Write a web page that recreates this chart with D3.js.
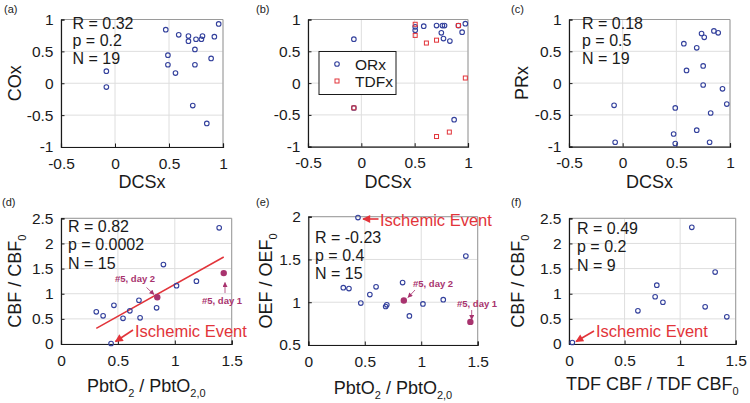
<!DOCTYPE html>
<html><head><meta charset="utf-8">
<script src="https://cdn.jsdelivr.net/npm/d3@7"></script>
<style>
body{margin:0;background:#fff}
svg{display:block}
text{font-family:"Liberation Sans",Arial,Helvetica,sans-serif}
</style>
</head><body>
<svg id="chart" width="750" height="403"></svg>
<script>
// ---------------- data ----------------
// (a) COx vs DCSx
const aDCSx = [-0.08, -0.08, 0.47, 0.49, 0.49, 0.56, 0.59, 0.68, 0.68, 0.75, 0.74, 0.74, 0.80, 0.81, 0.72, 0.85, 0.89, 0.92, 0.96];
const aCOx  = [0.19, -0.06, 0.84, 0.44, 0.29, 0.16, 0.76, 0.74, 0.66, 0.69, 0.53, 0.29, 0.69, 0.74, -0.35, -0.63, 0.39, 0.73, 0.93];
// (b) ORx / TDFx vs DCSx
const bDCSxOR = [-0.07, -0.07, 0.505, 0.505, 0.585, 0.705, 0.76, 0.78, 0.75, 0.77, 0.83, 0.91, 0.945, 0.975, 0.87];
const bORx    = [0.69, -0.39, 0.885, 0.83, 0.895, 0.905, 0.905, 0.905, 0.79, 0.70, 0.66, 0.905, 0.80, 0.935, -0.575];
const bDCSxTDF = [-0.07, 0.505, 0.505, 0.61, 0.705, 0.91, 0.975, 0.705, 0.825];
const bTDFx    = [-0.39, 0.925, 0.75, 0.63, 0.675, 0.905, 0.08, -0.84, -0.77];
// (c) PRx vs DCSx
const cDCSx = [-0.08, -0.07, 0.57, 0.595, 0.49, 0.475, 0.49, 0.69, 0.69, 0.735, 0.76, 0.75, 0.75, 0.82, 0.81, 0.85, 0.89, 0.93, 0.97];
const cPRx  = [-0.35, -0.93, 0.62, 0.20, -0.39, -0.80, -0.95, 0.555, -0.74, 0.78, 0.72, 0.27, -0.03, -0.47, -0.93, 0.82, 0.79, -0.09, -0.33];
// (d) CBF/CBF0 vs PbtO2/PbtO2,0
const dPbt = [0.31, 0.37, 0.44, 0.465, 0.545, 0.605, 0.685, 0.695, 0.84, 0.90, 1.015, 1.19, 1.39];
const dCBF = [0.64, 0.56, 0.01, 0.77, 0.51, 0.66, 0.87, 0.52, 0.72, 1.58, 1.16, 1.25, 2.31];
const dPbtDay = [0.846, 1.43];
const dCBFDay = [0.93, 1.41];
const dFitX = [0.31, 1.43];
const dFitY = [0.31, 1.73];
// (e) OEF/OEF0 vs PbtO2/PbtO2,0
const ePbt = [0.31, 0.36, 0.44, 0.465, 0.545, 0.60, 0.685, 0.695, 0.835, 0.895, 1.015, 1.195, 1.395];
const eOEF = [1.17, 1.16, 1.99, 0.99, 1.09, 1.18, 0.95, 0.97, 1.23, 0.84, 0.98, 1.03, 1.54];
const ePbtDay = [0.846, 1.435];
const eOEFDay = [1.02, 0.77];
// (f) CBF/CBF0 vs TDF CBF/TDF CBF0
const fTDF = [0.03, 0.62, 0.775, 0.79, 0.845, 1.105, 1.225, 1.315, 1.42];
const fCBF = [0.03, 0.66, 0.94, 1.17, 0.83, 2.32, 0.74, 1.43, 0.54];
// ticks and texts
const ticksDCS = [-0.5, 0, 0.5, 1];
const ticksIdx = [-1, -0.5, 0, 0.5, 1];
const ticksRatioX = [0, 0.5, 1, 1.5];
const ticksCBF = [0, 0.5, 1, 1.5, 2, 2.5];
const ticksOEF = [0.5, 1, 1.5, 2];
const statsA = ["R = 0.32", "p = 0.2", "N = 19"];
const statsC = ["R = 0.18", "p = 0.5", "N = 19"];
const statsD = ["R = 0.82", "p = 0.0002", "N = 15"];
const statsE = ["R = -0.23", "p = 0.4", "N = 15"];
const statsF = ["R = 0.49", "p = 0.2", "N = 9"];
const legendLabels = ["ORx", "TDFx"];

// ---------------- styles ----------------
const BLUE = "#33409c", RED = "#e2343a", PURPLE = "#a8336e", GRID = "#dedede";
const svg = d3.select("#chart");
const defs = svg.append("defs");
function mkArrow(id, col, w, h) {
  defs.append("marker").attr("id", id).attr("viewBox", "0 0 10 10").attr("refX", 9).attr("refY", 5)
    .attr("markerWidth", w).attr("markerHeight", h).attr("orient", "auto").attr("markerUnits", "userSpaceOnUse")
    .append("path").attr("d", "M0,0 L10,5 L0,10 z").attr("fill", col);
}
mkArrow("arRed", RED, 9, 8);
mkArrow("arPur", PURPLE, 6, 5);

function richText(sel, parts, mainSize, subSize) {
  parts.forEach((p, i) => {
    const sub = p[1] === "sub";
    const t = sel.append("tspan").text(p[0]).attr("font-size", sub ? subSize : mainSize);
    if (sub) t.attr("dy", mainSize * 0.3);
    else if (i > 0 && parts[i - 1][1] === "sub") t.attr("dy", -mainSize * 0.3);
  });
}

function panel(o) {
  const x = d3.scaleLinear().domain(o.xd).range([o.l, o.r]);
  const y = d3.scaleLinear().domain(o.yd).range([o.b, o.t]);
  const g = svg.append("g");
  // grid
  g.append("g").selectAll("line").data(o.xt).join("line")
    .attr("x1", d => x(d)).attr("x2", d => x(d)).attr("y1", o.t).attr("y2", o.b)
    .attr("stroke", GRID).attr("stroke-width", 1);
  g.append("g").selectAll("line").data(o.yt).join("line")
    .attr("y1", d => y(d)).attr("y2", d => y(d)).attr("x1", o.l).attr("x2", o.r)
    .attr("stroke", GRID).attr("stroke-width", 1);
  // box top/right
  g.append("path").attr("d", `M${o.l},${o.t}H${o.r}V${o.b}`).attr("fill", "none").attr("stroke", "#9a9a9a").attr("stroke-width", 1);
  const fmt = v => String(v);
  const ax = g.append("g").attr("transform", `translate(0,${o.b})`)
    .call(d3.axisBottom(x).tickValues(o.xt).tickSize(-3.5).tickPadding(10.5).tickFormat(fmt));
  const ay = g.append("g").attr("transform", `translate(${o.l},0)`)
    .call(d3.axisLeft(y).tickValues(o.yt).tickSize(-3.5).tickPadding(7.5).tickFormat(fmt));
  [ax, ay].forEach(a => {
    a.select(".domain").attr("stroke", "#1a1a1a").attr("stroke-width", 1.2);
    a.selectAll(".tick line").attr("stroke", "#1a1a1a");
    a.selectAll(".tick text").attr("font-size", 15.5).attr("fill", "#1a1a1a")
      .attr("font-family", "'Liberation Sans',Arial,sans-serif");
  });
  // stats text
  if (o.stats) {
    o.stats.forEach((s, i) => {
      g.append("text").attr("x", o.sx).attr("y", o.sy + i * o.sdy).attr("font-size", 16).attr("fill", "#1a1a1a").text(s);
    });
  }
  // panel label
  g.append("text").attr("x", o.plx).attr("y", o.ply).attr("font-size", 11).attr("fill", "#222").text(o.pl);
  // axis titles
  const xt = g.append("text").attr("x", (o.l + o.r) / 2).attr("y", o.b + o.xlo).attr("text-anchor", "middle").attr("fill", "#1a1a1a");
  richText(xt, o.xlab, 18, 11);
  if (o.ylab) {
    const cy = (o.t + o.b) / 2;
    const yt = g.append("text").attr("transform", `translate(${o.ylx},${cy}) rotate(-90)`).attr("text-anchor", "middle").attr("fill", "#1a1a1a");
    richText(yt, o.ylab, 18, 11);
  }
  return {x, y, g};
}

function circles(p, xs, ys, col, r) {
  p.g.append("g").selectAll("circle").data(xs.map((v, i) => [v, ys[i]])).join("circle")
    .attr("cx", d => p.x(d[0])).attr("cy", d => p.y(d[1])).attr("r", r || 2.3)
    .attr("fill", "none").attr("stroke", col).attr("stroke-width", 1.1);
}
function dots(p, xs, ys) {
  p.g.append("g").selectAll("circle").data(xs.map((v, i) => [v, ys[i]])).join("circle")
    .attr("cx", d => p.x(d[0])).attr("cy", d => p.y(d[1])).attr("r", 3.2).attr("fill", PURPLE);
}
function arrow(g, x1, y1, x2, y2, col, id, w) {
  g.append("line").attr("x1", x1).attr("y1", y1).attr("x2", x2).attr("y2", y2)
    .attr("stroke", col).attr("stroke-width", w).attr("marker-end", `url(#${id})`);
}
function note(g, x, y, txt, col, size, weight) {
  g.append("text").attr("x", x).attr("y", y).attr("font-size", size).attr("fill", col)
    .attr("font-weight", weight || "normal").text(txt);
}

// ---------------- panels ----------------
const pa = panel({l: 61, r: 223, t: 19.5, b: 147, xd: [-0.5, 1], yd: [-1, 1], xt: ticksDCS, yt: ticksIdx,
  stats: statsA, sx: 72.5, sy: 28.5, sdy: 17.5, pl: "(a)", plx: 4, ply: 13,
  xlab: [["DCSx", ""]], xlo: 41, ylab: [["COx", ""]], ylx: 21});
circles(pa, aDCSx, aCOx, BLUE);

const pb = panel({l: 308, r: 468, t: 19.5, b: 146.7, xd: [-0.5, 1], yd: [-1, 1], xt: ticksDCS, yt: ticksIdx,
  pl: "(b)", plx: 256, ply: 13, xlab: [["DCSx", ""]], xlo: 41});
circles(pb, bDCSxOR, bORx, BLUE);
pb.g.append("g").selectAll("rect").data(bDCSxTDF.map((v, i) => [v, bTDFx[i]])).join("rect")
  .attr("x", d => pb.x(d[0]) - 2).attr("y", d => pb.y(d[1]) - 2).attr("width", 4).attr("height", 4)
  .attr("fill", "none").attr("stroke", RED).attr("stroke-width", 1);
// legend
const lg = pb.g.append("g");
lg.append("rect").attr("x", 319).attr("y", 51.5).attr("width", 77).attr("height", 43)
  .attr("fill", "#fff").attr("stroke", "#1a1a1a").attr("stroke-width", 1);
lg.append("circle").attr("cx", 337).attr("cy", 64).attr("r", 2.3).attr("fill", "none").attr("stroke", BLUE).attr("stroke-width", 1.1);
lg.append("rect").attr("x", 335).attr("y", 79).attr("width", 4).attr("height", 4).attr("fill", "none").attr("stroke", RED);
legendLabels.forEach((s, i) => {
  lg.append("text").attr("x", 355).attr("y", 69.5 + i * 17).attr("font-size", 15.5).attr("fill", "#1a1a1a").text(s);
});

const pc = panel({l: 569, r: 730, t: 19.5, b: 146.7, xd: [-0.5, 1], yd: [-1, 1], xt: ticksDCS, yt: ticksIdx,
  stats: statsC, sx: 582, sy: 28.5, sdy: 17.5, pl: "(c)", plx: 511, ply: 13,
  xlab: [["DCSx", ""]], xlo: 41, ylab: [["PRx", ""]], ylx: 528});
circles(pc, cDCSx, cPRx, BLUE);

const pd = panel({l: 61, r: 231.7, t: 218.3, b: 344, xd: [0, 1.5], yd: [0, 2.5], xt: ticksRatioX, yt: ticksCBF,
  stats: statsD, sx: 68, sy: 232, sdy: 18.3, pl: "(d)", plx: 2, ply: 206,
  xlab: [["PbtO", ""], ["2", "sub"], [" / PbtO", ""], ["2,0", "sub"]], xlo: 48,
  ylab: [["CBF / CBF", ""], ["0", "sub"]], ylx: 21});
pd.g.append("line").attr("x1", pd.x(dFitX[0])).attr("y1", pd.y(dFitY[0])).attr("x2", pd.x(dFitX[1])).attr("y2", pd.y(dFitY[1]))
  .attr("stroke", RED).attr("stroke-width", 1.5);
circles(pd, dPbt, dCBF, BLUE);
dots(pd, dPbtDay, dCBFDay);
note(pd.g, 115, 282, "#5, day 2", PURPLE, 9.5, "bold");
arrow(pd.g, 146.5, 287.5, 154, 294.5, PURPLE, "arPur", 0.8);
note(pd.g, 202, 304, "#5, day 1", PURPLE, 9.5, "bold");
arrow(pd.g, 225, 293, 225, 282.5, PURPLE, "arPur", 0.8);
note(pd.g, 135, 337, "Ischemic Event", RED, 16.5);
arrow(pd.g, 133, 330, 115.5, 341.5, RED, "arRed", 1.6);

const pe = panel({l: 308.3, r: 477.7, t: 216.7, b: 345, xd: [0, 1.5], yd: [0.5, 2], xt: ticksRatioX, yt: ticksOEF,
  stats: statsE, sx: 315, sy: 242.5, sdy: 18, pl: "(e)", plx: 256, ply: 206,
  xlab: [["PbtO", ""], ["2", "sub"], [" / PbtO", ""], ["2,0", "sub"]], xlo: 49,
  ylab: [["OEF / OEF", ""], ["0", "sub"]], ylx: 272});
circles(pe, ePbt, eOEF, BLUE);
dots(pe, ePbtDay, eOEFDay);
note(pe.g, 380, 226, "Ischemic Event", RED, 16.5);
arrow(pe.g, 378.5, 219, 363, 219, RED, "arRed", 1.6);
note(pe.g, 413, 287, "#5, day 2", PURPLE, 9.5, "bold");
arrow(pe.g, 415, 290, 408, 297.5, PURPLE, "arPur", 0.8);
note(pe.g, 457, 307, "#5, day 1", PURPLE, 9.5, "bold");
arrow(pe.g, 471.7, 310, 471.7, 319.5, PURPLE, "arPur", 0.8);

const pf = panel({l: 569, r: 735.7, t: 218.3, b: 344, xd: [0, 1.5], yd: [0, 2.5], xt: ticksRatioX, yt: ticksCBF,
  stats: statsF, sx: 577, sy: 234, sdy: 18.3, pl: "(f)", plx: 511, ply: 206,
  xlab: [["TDF CBF / TDF CBF", ""], ["0", "sub"]], xlo: 46,
  ylab: [["CBF / CBF", ""], ["0", "sub"]], ylx: 524});
circles(pf, fTDF, fCBF, BLUE);
note(pf.g, 596, 337, "Ischemic Event", RED, 16.5);
arrow(pf.g, 594, 331, 576, 341.5, RED, "arRed", 1.6);
</script>
</body></html>
